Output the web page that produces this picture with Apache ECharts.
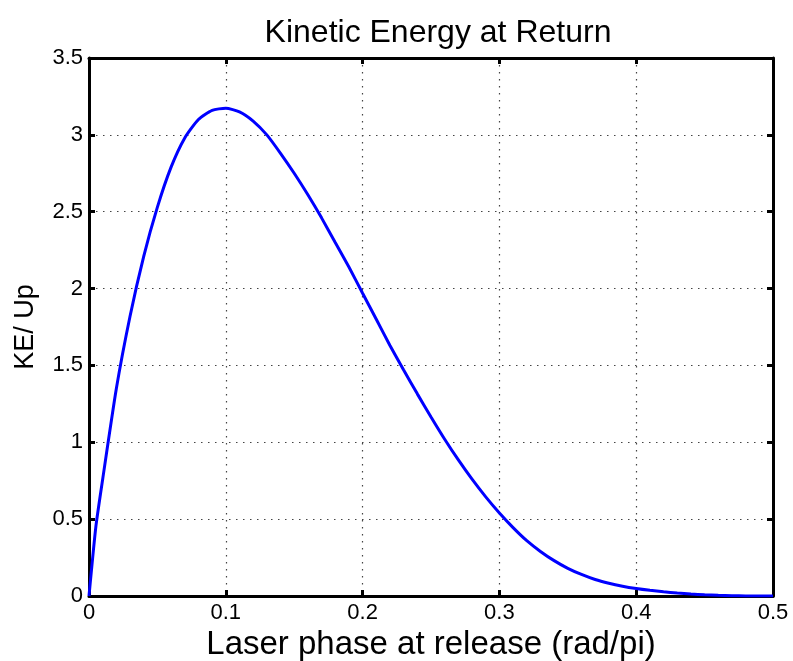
<!DOCTYPE html>
<html>
<head>
<meta charset="utf-8">
<script src="https://cdn.jsdelivr.net/npm/echarts@6/dist/echarts.min.js"></script>
<style>
  html, body { margin: 0; padding: 0; background: #fff; }
  #chart { width: 793px; height: 661px; }
</style>
</head>
<body>
<div id="chart"></div>
<script>
// Release phase (units of pi rad) and return kinetic energy in units of Up
const phase = [0, 0.005, 0.01, 0.02, 0.03, 0.04, 0.05, 0.06, 0.07, 0.08, 0.09, 0.10,
               0.11, 0.12, 0.13, 0.14, 0.15, 0.16, 0.17, 0.18, 0.19, 0.20,
               0.21, 0.22, 0.23, 0.24, 0.25, 0.26, 0.27, 0.28, 0.29, 0.30,
               0.31, 0.32, 0.33, 0.34, 0.35, 0.36, 0.37, 0.38, 0.39, 0.40,
               0.41, 0.42, 0.43, 0.44, 0.45, 0.46, 0.47, 0.48, 0.49, 0.50];
const keRatio = [0, 0.45, 0.76, 1.35, 1.82, 2.21, 2.53, 2.79, 2.98, 3.10, 3.16, 3.173,
                 3.15, 3.09, 3.00, 2.88, 2.75, 2.61, 2.46, 2.30, 2.14, 1.97,
                 1.80, 1.63, 1.47, 1.315, 1.165, 1.02, 0.885, 0.76, 0.645, 0.54,
                 0.445, 0.36, 0.29, 0.23, 0.18, 0.14, 0.107, 0.083, 0.064, 0.049,
                 0.037, 0.027, 0.019, 0.013, 0.008, 0.0045, 0.002, 0.0007, 0.0001, 0];
const xTicks = [0, 0.1, 0.2, 0.3, 0.4, 0.5];
const yTicks = [0, 0.5, 1, 1.5, 2, 2.5, 3, 3.5];

const FONT = "'Liberation Sans', Arial, sans-serif";
const points = phase.map((p, i) => [p, keRatio[i]]);

const dotted = { show: true, lineStyle: { color: '#444', width: 1.2, type: [1.5, 5.5] } };
const tickIn = { show: true, inside: true, length: 6, lineStyle: { color: '#000', width: 3 } };
const frame = { show: true, onZero: false, lineStyle: { color: '#000', width: 3 } };

const chart = echarts.init(document.getElementById('chart'));
chart.setOption({
  animation: false,
  backgroundColor: '#fff',
  title: {
    text: 'Kinetic Energy at Return',
    left: 433, top: 12, textAlign: 'center',
    textStyle: { fontFamily: FONT, fontSize: 32, fontWeight: 'normal', color: '#000' }
  },
  grid: { left: 89, right: 20, top: 58, bottom: 65, outerBoundsMode: 'none', containLabel: false },
  xAxis: [
    {
      type: 'value', min: 0, max: 0.5, interval: 0.1, position: 'bottom',
      axisLine: frame, axisTick: tickIn, splitLine: dotted,
      axisLabel: { fontFamily: FONT, fontSize: 22, color: '#000', margin: 6,
                   formatter: v => xTicks.includes(+v.toFixed(1)) ? String(+v.toFixed(1)) : '' },
      name: 'Laser phase at release (rad/pi)', nameLocation: 'middle', nameGap: 31,
      nameTextStyle: { fontFamily: FONT, fontSize: 33, color: '#000' }
    },
    {
      type: 'value', min: 0, max: 0.5, interval: 0.1, position: 'top',
      axisLine: frame, axisTick: tickIn, splitLine: { show: false }, axisLabel: { show: false }
    }
  ],
  yAxis: [
    {
      type: 'value', min: 0, max: 3.5, interval: 0.5, position: 'left',
      axisLine: frame, axisTick: tickIn, splitLine: dotted,
      axisLabel: { fontFamily: FONT, fontSize: 22, color: '#000', margin: 6,
                   formatter: v => yTicks.includes(v) ? String(v) : '' },
      name: 'KE/ Up', nameLocation: 'middle', nameGap: 50,
      nameTextStyle: { fontFamily: FONT, fontSize: 27, color: '#000' }
    },
    {
      type: 'value', min: 0, max: 3.5, interval: 0.5, position: 'right',
      axisLine: frame, axisTick: tickIn, splitLine: { show: false }, axisLabel: { show: false }
    }
  ],
  series: [{
    type: 'line',
    data: points,
    smooth: 0.2,
    showSymbol: false,
    clip: true,
    lineStyle: { color: '#0000ff', width: 3 },
    z: 5
  }]
});
</script>
</body>
</html>
